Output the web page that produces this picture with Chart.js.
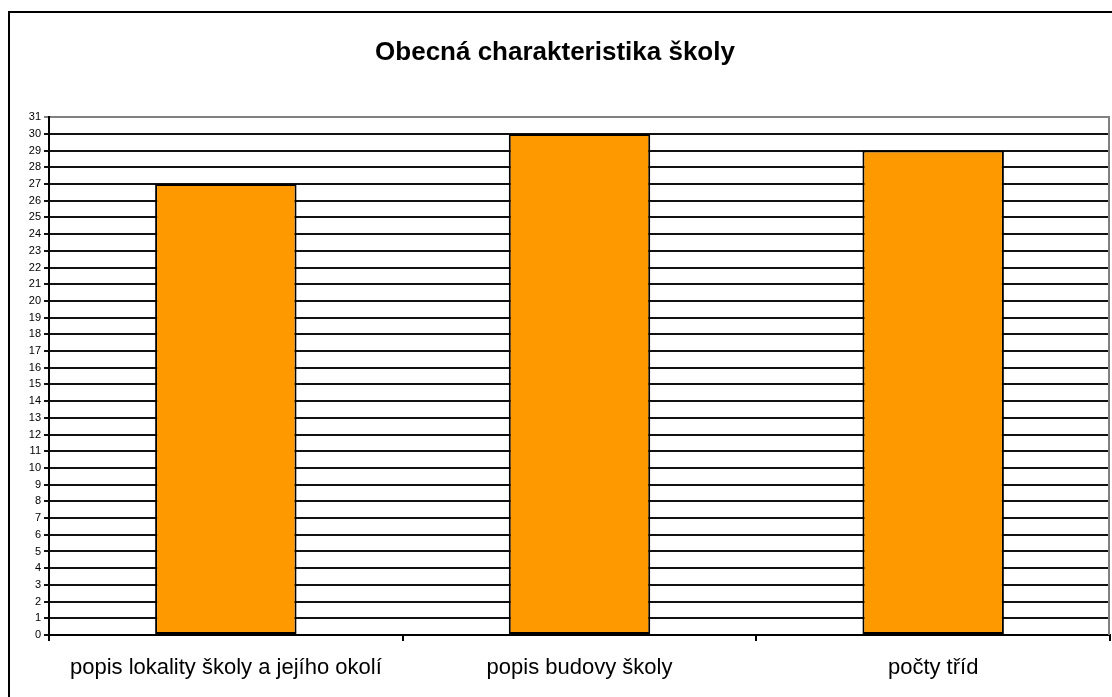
<!DOCTYPE html>
<html>
<head>
<meta charset="utf-8">
<script src="https://cdn.jsdelivr.net/npm/chart.js@4"></script>
<style>
  html, body { margin: 0; padding: 0; background: #fff; }
  #frame { position: absolute; left: 8px; top: 11px; width: 1200px; height: 800px;
           border-left: 2px solid #000; border-top: 2px solid #000; }
  #wrap { position: absolute; left: 0; top: 0; width: 1112px; height: 697px; }
</style>
</head>
<body>
<div id="frame"></div>
<div id="wrap"><canvas id="myChart"></canvas></div>
<script>
const categories = ["popis lokality školy a jejího okolí", "popis budovy školy", "počty tříd"];
const counts = [27, 30, 29];
const yMax = 31;

const fontFamily = "Liberation Sans, Arial, sans-serif";

// gray line closing the plot area on the right
const rightEdge = {
  id: "rightEdge",
  afterDraw(chart) {
    const a = chart.chartArea;
    const c = chart.ctx;
    c.save();
    c.strokeStyle = "#808080";
    c.lineWidth = 2;
    c.beginPath();
    c.moveTo(Math.round(a.right) - 1, a.top);
    c.lineTo(Math.round(a.right) - 1, a.bottom);
    c.stroke();
    c.restore();
  },
};

const ctx = document.getElementById("myChart").getContext("2d");
const myChart = new Chart(ctx, {
  type: "bar",
  data: {
    labels: categories,
    datasets: [
      {
        label: "Obecná charakteristika školy",
        data: counts,
        backgroundColor: "#FF9900",
        borderColor: "#000000",
        borderWidth: 2,
        borderSkipped: false,
        barPercentage: 0.4,
        categoryPercentage: 1.0,
      },
    ],
  },
  options: {
    responsive: true,
    maintainAspectRatio: false,
    animation: false,
    layout: { padding: { left: 0, right: 2, top: 0, bottom: 0 } },
    plugins: {
      legend: { display: false },
      tooltip: { enabled: false },
      title: {
        display: true,
        text: "Obecná charakteristika školy",
        color: "#000",
        font: { family: fontFamily, size: 26, weight: "bold", lineHeight: 1.2 },
        padding: { top: 37, bottom: 49 },
      },
    },
    scales: {
      x: {
        offset: true,
        grid: {
          offset: true,
          drawOnChartArea: false,
          color: "#000",
          lineWidth: 2,
          tickLength: 6,
        },
        border: { color: "#000", width: 2 },
        ticks: {
          color: "#000",
          padding: 14,
          font: { family: fontFamily, size: 22 },
        },
        afterFit: (s) => { s.height = 62; },
      },
      y: {
        min: 0,
        max: yMax,
        grid: {
          color: (c) => (c.tick && c.tick.value === yMax ? "#808080" : "#111"),
          lineWidth: 2,
          tickLength: 5,
        },
        border: { color: "#000", width: 2 },
        ticks: {
          stepSize: 1,
          autoSkip: false,
          color: "#000",
          padding: 3,
          font: { family: fontFamily, size: 11 },
        },
        afterFit: (s) => { s.width = 49; },
      },
    },
  },
  plugins: [rightEdge],
});
</script>
</body>
</html>
